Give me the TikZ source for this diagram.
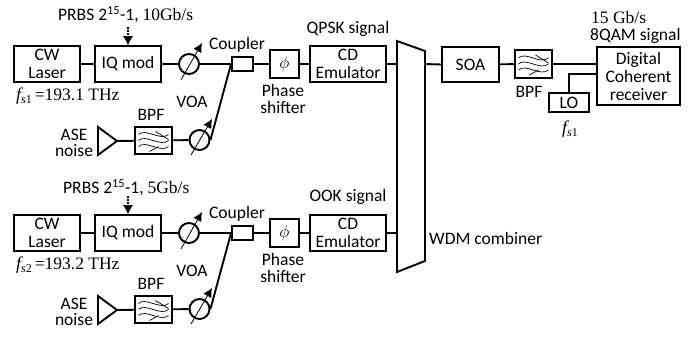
\documentclass[tikz,border=0pt]{standalone}
\usepackage{fontspec}
\setmainfont{Carlito}
\newfontfamily\tms{Liberation Serif}
\usetikzlibrary{arrows.meta}
\newcommand{\fsub}[1]{{\tms\itshape\fontsize{18}{18}\selectfont f\raisebox{-3pt}{\fontsize{12}{12}\selectfont s\upshape #1}}}
\tikzset{
  box/.style={draw,line width=1.9pt,inner sep=0pt,align=center,font=\fontsize{17.5}{18}\selectfont},
  wire/.style={line width=1.9pt},
  lab/.style={inner sep=0pt,align=center,font=\fontsize{17.5}{18}\selectfont},
  ser/.style={inner sep=0pt,font=\tms\fontsize{17.5}{18}\selectfont},
  voac/.style={draw,circle,line width=1.9pt,minimum size=20pt,inner sep=0pt},
  voaarr/.style={line width=0.8pt,-{Latex[length=9pt,width=9pt]}},
  wav/.style={line width=0.7pt},
}
\newcommand{\bpfwaves}[1]{%
  \foreach \d in {-6,0,6}{
    \draw[wav] ([shift={(-15pt,\d pt)}]#1.center) .. controls +(7pt,7pt) and +(-8pt,-7pt) .. ([shift={(15pt,\d pt)}]#1.center);
  }
  \draw[wav] ([shift={(2pt,9pt)}]#1.center) -- ([shift={(15pt,1pt)}]#1.center);
  \draw[wav] ([shift={(-4pt,-11pt)}]#1.center) -- ([shift={(5pt,-6pt)}]#1.center);
}
\newcommand{\branch}[5]{%
\begin{scope}[yshift=-#2pt]
  \node[box,minimum width=66pt,minimum height=36pt] (#1cw) at (47,64) {CW\\Laser};
  \node[box,minimum width=66pt,minimum height=36pt] (#1iq) at (128,64) {IQ mod};
  \node[voac] (#1va) at (189,64) {};
  \node[box,minimum width=21pt,minimum height=14pt] (#1cp) at (242.5,64) {};
  \node[box,minimum width=29pt,minimum height=28pt] (#1ph) at (284.5,64) {};
  \node[lab] (#1ps) at (#1ph.center) {\fontsize{18}{18}\selectfont$\phi$};
  \node[box,minimum width=76pt,minimum height=36pt] (#1cd) at (348,64) {CD\\Emulator};
  \coordinate (#1pa) at (181,80); \coordinate (#1pb) at (202,43);
  \draw[voaarr] (#1pa) -- (#1pb);
  \node[lab] (#1sl) at (348,#5) {#4};
  \node[lab] (#1cl) at (237,45) {Coupler};
  \node[lab] (#1pl) at (283,99) {Phase\\[-1pt]shifter};
  \node[lab] (#1vl) at (192,102) {VOA};
  \node[ser,anchor=west] (#1fq) at (16,96.5) {\fsub{#3}\,=193.#3 THz};
  \coordinate (#1ds) at (128,27);
  \draw[line width=2pt,dash pattern=on 1.7pt off 1.5pt] (#1ds) -- ++(0,-9pt) coordinate (#1dt);
  \draw[line width=.5pt,-{Latex[length=9pt,width=10pt]}] (#1dt) -- (#1iq.north);
  \draw[wire] (#1cw) -- (#1iq);
  \draw[wire] (#1iq) -- (#1va);
  \draw[wire] (#1va) -- (#1cp);
  \draw[wire] (#1cp) -- (#1ph);
  \draw[wire] (#1ph) -- (#1cd);
  \coordinate (#1ta) at (98,127); \coordinate (#1tb) at (98,155);
  \coordinate (#1tc) at (117,141);
  \draw[line width=1.9pt,line join=miter] (#1ta) -- (#1tc) -- (#1tb) -- cycle;
  \node[lab] (#1as) at (74,142.5) {ASE\\[-2pt]noise};
  \node[box,minimum width=37pt,minimum height=27pt] (#1bp) at (153.5,140.5) {};
  \node[lab] (#1bl) at (151,115) {BPF};
  \node[voac] (#1vb) at (199.5,140) {};
  \coordinate (#1qa) at (191,155); \coordinate (#1qb) at (212,119);
  \draw[voaarr] (#1qa) -- (#1qb);
  \draw[wire] (#1tc) -- (#1bp);
  \draw[wire] (#1bp) -- (#1vb);
  \draw[wire] (#1vb.east) -- (#1cp.west);
  \bpfwaves{#1bp}
\end{scope}}
\begin{document}
\begin{tikzpicture}[x=1pt,y=-1pt]
\useasboundingbox (0,0) rectangle (697,345);
\branch{u}{0}{1}{QPSK signal}{29}
\branch{l}{169}{2}{OOK signal}{28}
\node[lab,anchor=west] (up) at (58,15) {PRBS 2\textsuperscript{15}-1, {\tms 10Gb/s}};
\node[lab,anchor=west] (lw) at (63,188) {PRBS 2\textsuperscript{15}-1, {\tms 5Gb/s}};
\coordinate (c1) at (397,41); \coordinate (c2) at (425,51); \coordinate (c3) at (425,261); \coordinate (c4) at (397,272);
\draw[line width=1.9pt,line join=miter] (c1) -- (c2) -- (c3) -- (c4) -- cycle;
\node[lab,anchor=west] (wl) at (429,238) {WDM combiner};
\coordinate (e1) at (397,64); \coordinate (e2) at (397,233);
\draw[wire] (ucd) -- (e1);
\draw[wire] (lcd) -- (e2);
\node[box,minimum width=57pt,minimum height=35pt] (soa) at (470.5,64.5) {SOA};
\node[box,minimum width=37pt,minimum height=28pt] (fb) at (533.5,64) {};
\bpfwaves{fb}
\node[lab] (fl) at (529,92) {BPF};
\node[box,minimum width=83pt,minimum height=58pt] (rx) at (638.5,76) {Digital\\Coherent\\receiver};
\node[box,minimum width=40pt,minimum height=19pt] (lo) at (569,102.5) {LO};
\node[inner sep=0pt] (fs) at (570,129) {\fsub{1}};
\node[ser,anchor=west] (gb) at (591,18) {15 Gb/s};
\node[lab,anchor=west] (qam) at (590,36) {8QAM signal};
\coordinate (s) at (425,64);
\draw[wire] (s) -- (soa.west);
\draw[wire] (soa) -- (fb);
\draw[wire] (fb.east) -- (fb.east -| rx.west);
\coordinate (rj) at (597,74);
\draw[wire] (lo.north) |- (rj);
\end{tikzpicture}
\end{document}
